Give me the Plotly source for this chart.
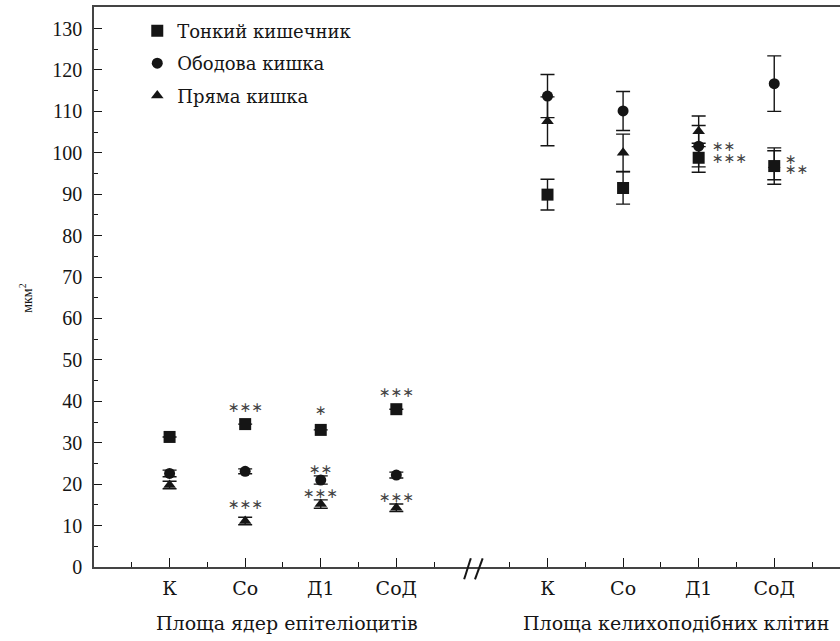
import plotly.graph_objects as go

# ---------------- data ----------------
categories = ["К", "Со", "Д1", "СоД"]
group_titles = ["Площа ядер епітеліоцитів", "Площа келихоподібних клітин"]
series_names = ["Тонкий кишечник", "Ободова кишка", "Пряма кишка"]

x_nuclei = [2, 4, 6, 8]
x_goblet = [12, 14, 16, 18]

# Площа ядер епітеліоцитів
small_nuclei = [31.4, 34.5, 33.1, 38.1]
small_nuclei_err = [0.0, 0.0, 0.0, 0.0]
colon_nuclei = [22.6, 23.1, 21.0, 22.2]
colon_nuclei_err = [0.8, 0.6, 1.0, 0.7]
rectum_nuclei = [19.8, 11.1, 15.2, 14.3]
rectum_nuclei_err = [0.9, 0.9, 1.0, 0.9]

# Площа келихоподібних клітин
small_goblet = [89.9, 91.5, 98.8, 96.8]
small_goblet_err = [3.7, 3.9, 3.5, 4.4]
colon_goblet = [113.7, 110.1, 101.6, 116.7]
colon_goblet_err = [5.2, 4.7, 5.0, 6.7]
rectum_goblet = [107.6, 100.0, 105.2, 97.0]
rectum_goblet_err = [5.9, 4.5, 3.7, 3.5]

# significance marks
sig_x = [4, 4, 6, 6, 6, 8, 8, 16.29, 16.29, 18.24, 18.24]
sig_y = [38.7, 15.3, 37.9, 23.6, 17.9, 42.3, 16.9, 101.6, 98.8, 98.6, 96.1]
sig_text = ["∗∗∗", "∗∗∗", "∗", "∗∗", "∗∗∗", "∗∗∗", "∗∗∗", "∗∗", "∗∗∗", "∗", "∗∗"]
sig_anchor = ["center"] * 7 + ["left", "left", "left", "left"]

minor_x = [1, 3, 5, 7, 9, 11, 13, 15, 17, 19]

# ---------------- figure ----------------
INK = "#151515"
NUM = "Liberation Serif, serif"
TXT = "DejaVu Serif, serif"

fig = go.Figure()

specs = [
    (series_names[2], rectum_nuclei + rectum_goblet, rectum_nuclei_err + rectum_goblet_err, "triangle-up", 11, 3),
    (series_names[1], colon_nuclei + colon_goblet, colon_nuclei_err + colon_goblet_err, "circle", 11, 2),
    (series_names[0], small_nuclei + small_goblet, small_nuclei_err + small_goblet_err, "square", 12, 1),
]
for name, vals, errs, sym, size, rank in specs:
    fig.add_trace(go.Scatter(
        x=x_nuclei + x_goblet,
        y=vals,
        mode="markers",
        name=name,
        legendrank=rank,
        legendgroup=name,
        marker=dict(symbol=sym, size=size, color=INK, line=dict(width=0)),
        error_y=dict(type="data", array=errs, visible=True, color=INK,
                     thickness=1.4, width=7),
        cliponaxis=False,
    ))

for xv, yv, t, anc in zip(sig_x, sig_y, sig_text, sig_anchor):
    fig.add_annotation(x=xv, y=yv, text=t, showarrow=False, xref="x", yref="y",
                       xanchor=anc, yanchor="middle",
                       font=dict(family="DejaVu Sans", size=14, color="#444444"))

# group titles
fig.add_annotation(x=sum(x_nuclei) / 4 + 0.1, y=-0.1, xref="x", yref="paper",
                   text=group_titles[0], showarrow=False, yanchor="middle",
                   font=dict(family=TXT, size=19, color=INK))
fig.add_annotation(x=sum(x_goblet) / 4 + 0.4, y=-0.1, xref="x", yref="paper",
                   text=group_titles[1], showarrow=False, yanchor="middle",
                   font=dict(family=TXT, size=19, color=INK))

# y axis title
fig.add_annotation(x=-0.105, y=0.48, xref="paper", yref="paper", textangle=-90,
                   text="мкм<sup>2</sup>", showarrow=False,
                   font=dict(family=NUM, size=14, color=INK))

# axis break marks (//)
for x0, x1 in [(0.4962, 0.5051), (0.5107, 0.5210)]:
    fig.add_shape(type="line", xref="paper", yref="paper",
                  x0=x0, x1=x1, y0=-0.022, y1=0.0155,
                  line=dict(color=INK, width=2))

fig.update_layout(
    width=840, height=641,
    margin=dict(l=94, r=0, t=7, b=74),
    paper_bgcolor="white", plot_bgcolor="white",
    font=dict(family=NUM, size=19, color=INK),
    showlegend=True,
    legend=dict(x=0.058, y=0.99, xanchor="left", yanchor="top",
                bgcolor="rgba(0,0,0,0)", font=dict(family=TXT, size=18, color=INK),
                tracegroupgap=6, itemsizing="trace", traceorder="grouped"),
    xaxis=dict(
        range=[0, 19.74], showgrid=False, zeroline=False,
        showline=True, linecolor="#444", linewidth=1.6, mirror=True,
        tickmode="array", tickvals=x_nuclei + x_goblet, ticktext=categories + categories,
        ticks="inside", ticklen=9, tickwidth=1.4, tickcolor=INK,
        ticklabelstandoff=3,
        minor=dict(tickmode="array", tickvals=minor_x, ticks="inside", ticklen=5,
                   tickwidth=1.2, tickcolor=INK, showgrid=False),
        tickfont=dict(family=TXT, size=19, color=INK),
    ),
    yaxis=dict(
        range=[0, 135.2], showgrid=False, zeroline=False,
        showline=True, linecolor="#444", linewidth=1.6,
        tickmode="linear", tick0=0, dtick=10,
        ticks="inside", ticklen=8, tickwidth=1.2, tickcolor=INK,
        minor=dict(dtick=5, ticks="inside", ticklen=4, tickwidth=1.0, tickcolor=INK, showgrid=False),
        tickfont=dict(family=NUM, size=20, color=INK),
        ticklabelstandoff=6,
    ),
)

fig.write_html("out.html", config={"displayModeBar": False},
               post_script="document.body.style.margin='0';")
